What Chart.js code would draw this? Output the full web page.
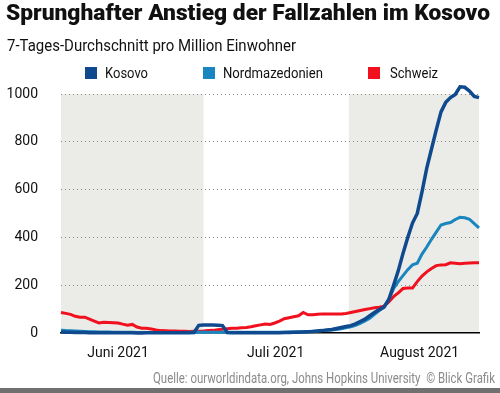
<!DOCTYPE html>
<html lang="de">
<head>
<meta charset="utf-8">
<script src="https://cdn.jsdelivr.net/npm/chart.js@4.4.0/dist/chart.umd.min.js"></script>
<style>
  html, body { margin: 0; padding: 0; background: #fff; }
  body {
    width: 500px; height: 393px; position: relative; overflow: hidden;
    font-family: Roboto, "DejaVu Sans Condensed", sans-serif;
    color: #111;
  }
  #chart { position: absolute; left: 0; top: 0; }
  .fit { position: absolute; white-space: nowrap; transform-origin: left top; display: inline-block; }
  h1 { left: 6px; top: 0; margin: 0; font-size: 22px; font-weight: 900; line-height: 26px; }
  .sub { left: 7px; top: 34px; font-size: 17px; line-height: 22px; }
  .legend-text { top: 63px; font-size: 15.5px; line-height: 20px; }
  .legend-box { position: absolute; top: 67px; width: 12px; height: 12px; }
  .source { left: 153px; top: 370px; font-size: 14.5px; line-height: 18px; color: #8a8a8a; }
  .bar { position: absolute; left: 0; right: 0; bottom: 0; height: 5px; background: #707070; }
</style>
</head>
<body>
<canvas id="chart" width="500" height="393"></canvas>
<h1 class="fit" data-w="484">Sprunghafter Anstieg der Fallzahlen im Kosovo</h1>
<div class="fit sub" data-w="289">7-Tages-Durchschnitt pro Million Einwohner</div>
<div id="legend"></div>
<div class="fit source" data-w="342">Quelle: ourworldindata.org, Johns Hopkins University&nbsp;&nbsp;© Blick Grafik</div>
<div class="bar"></div>
<script>
// Tage ab 1. Juni 2021 (Index 0) bis 28. August 2021 (Index 88)
const kosovo = [
  4, 3, 3, 2, 2, 2, 1, 1, 1, 1,
  1, 1, 1, 1, 1, 1, 0, 0, 1, 1,
  1, 1, 1, 1, 1, 1, 1, 1, 2, 32,
  33, 33, 33, 32, 31, 2, 1, 1, 1, 1,
  1, 1, 1, 1, 1, 1, 1, 2, 2, 3,
  3, 4, 5, 6, 8, 10, 13, 15, 19, 23,
  27, 31, 38, 48, 58, 72, 86, 98, 108, 140,
  198, 260, 333, 400, 460, 500, 590, 690, 770, 850,
  925, 965, 985, 998, 1030, 1028, 1012, 990, 985
];
const nordmazedonien = [
  12, 10, 9, 8, 7, 6, 5, 5, 4, 4,
  4, 3, 3, 3, 3, 3, 2, 2, 2, 2,
  2, 2, 2, 2, 2, 2, 2, 3, 3, 3,
  3, 3, 3, 3, 3, 3, 3, 3, 3, 3,
  3, 3, 3, 3, 3, 3, 3, 3, 4, 4,
  5, 5, 6, 7, 8, 10, 12, 13, 15, 18,
  22, 26, 32, 40, 50, 62, 78, 94, 110, 140,
  185, 215, 240, 265, 285, 292, 330, 360, 392, 422,
  452, 458, 462, 475, 484, 482, 476, 458, 440
];
const schweiz = [
  86, 82, 78, 70, 66, 66, 58, 50, 42, 45,
  44, 43, 42, 37, 33, 36, 25, 20, 20, 17,
  13, 10, 9, 8, 8, 7, 7, 6, 7, 7,
  8, 10, 11, 14, 16, 18, 20, 20, 22, 23,
  26, 30, 34, 38, 36, 42, 50, 60, 64, 68,
  72, 86, 76, 76, 78, 80, 80, 80, 80, 80,
  82, 86, 90, 94, 98, 102, 106, 108, 112, 130,
  152, 168, 186, 188, 188, 215, 238, 256, 270, 282,
  285, 286, 294, 292, 290, 292, 293, 294, 294
];
const dayIndex = kosovo.map((_, i) => i);

const monthLabels = ['Juni 2021', 'Juli 2021', 'August 2021'];
const monthTickPos = [12, 45.2, 75.5];
const shadedMonths = [[0, 30], [60.6, 88]];
const yTicks = [0, 200, 400, 600, 800, 1000];

const seriesNames = ['Kosovo', 'Nordmazedonien', 'Schweiz'];
const seriesColors = ['#104a8e', '#1a86c0', '#f0101e'];

// legend layout: box x, text x, text width
const legendBoxX = [85, 203, 368];
const legendTextX = [105, 223, 390];
const legendTextW = [43, 100, 48];

const legend = document.getElementById('legend');
seriesNames.forEach((name, i) => {
    const box = document.createElement('div');
    box.className = 'legend-box';
    box.style.left = legendBoxX[i] + 'px';
    box.style.background = seriesColors[i];
    legend.appendChild(box);
    const txt = document.createElement('div');
    txt.className = 'fit legend-text';
    txt.style.left = legendTextX[i] + 'px';
    txt.dataset.w = legendTextW[i];
    txt.textContent = name;
    legend.appendChild(txt);
});

// condense the html text to the widths of the narrow original font
document.querySelectorAll('.fit').forEach((el) => {
    const w = el.getBoundingClientRect().width;
    el.style.transform = 'scaleX(' + (Number(el.dataset.w) / w) + ')';
});

const shadePlugin = {
    id: 'shade',
    beforeDraw(chart) {
        const { ctx, scales: { x, y } } = chart;
        ctx.save();
        ctx.fillStyle = '#ebebe7';
        shadedMonths.forEach(([a, b]) => {
            const x0 = x.getPixelForValue(a);
            const x1 = x.getPixelForValue(b);
            const y0 = y.getPixelForValue(1000);
            const y1 = y.getPixelForValue(0);
            ctx.fillRect(x0, y0, x1 - x0, y1 - y0);
        });
        ctx.restore();
    }
};

const tickFont = { family: 'Roboto, "DejaVu Sans Condensed", sans-serif', size: 14 };

new Chart(document.getElementById('chart'), {
    type: 'line',
    data: {
        labels: dayIndex,
        datasets: [ kosovo, nordmazedonien, schweiz ].map((d, i) => ({
            label: seriesNames[i],
            data: d,
            borderColor: seriesColors[i],
            borderWidth: i === 0 ? 3.5 : 3,
            pointRadius: 0,
            tension: 0,
            clip: false,
        })),
    },
    options: {
        responsive: false,
        animation: false,
        layout: { padding: { top: 94, right: 21, left: 0, bottom: 0 } },
        plugins: { legend: { display: false }, tooltip: { enabled: false } },
        scales: {
            x: {
                type: 'linear',
                min: 0,
                max: 88,
                grid: { display: false, drawTicks: false },
                border: { display: true, color: '#000', width: 1.5 },
                afterBuildTicks: (s) => { s.ticks = monthTickPos.map((v) => ({ value: v })); },
                afterFit: (s) => { s.height = 60; },
                ticks: {
                    autoSkip: false,
                    maxRotation: 0,
                    padding: 12,
                    color: '#111',
                    font: tickFont,
                    callback: (v, i) => monthLabels[i],
                },
            },
            y: {
                min: 0,
                max: 1000,
                afterBuildTicks: (s) => { s.ticks = yTicks.map((v) => ({ value: v })); },
                afterFit: (s) => { s.width = 61; },
                grid: {
                    drawTicks: false,
                    lineWidth: 1,
                    color: (c) => c.tick && c.tick.value === 0 ? 'rgba(0,0,0,0)' : '#8a8a8a',
                },
                border: { display: false, dash: [1, 3] },
                ticks: { padding: 23, color: '#111', font: tickFont, callback: (v) => String(v) },
            },
        },
    },
    plugins: [ shadePlugin ],
});
</script>
</body>
</html>
